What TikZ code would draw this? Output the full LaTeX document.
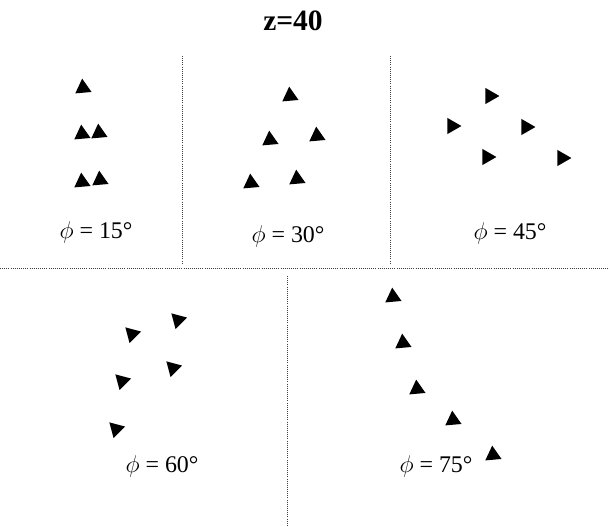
\documentclass[tikz,border=0pt]{standalone}
\usepackage{fontspec}
\setmainfont{Liberation Serif}
\usetikzlibrary{shapes.geometric}

\begin{document}
\begin{tikzpicture}[x=0.025cm,y=-0.025cm,
  tri/.style={regular polygon,regular polygon sides=3,fill=black,inner sep=0pt,minimum size=0.47cm},
  up/.style={tri,rotate=5},
  rt/.style={tri,rotate=-90},
  dn/.style={tri,rotate=165},
  sep/.style={densely dotted,line width=0.5pt,black!75},
  lbl/.style={font=\fontsize{17}{20}\selectfont}]
\useasboundingbox (0,0) rectangle (610,526);
\node[font=\fontsize{21}{24}\selectfont\bfseries] (title) at (293,21) {z=40};
% dividers
\coordinate (hl) at (0,268);   \coordinate (hr) at (610,268);
\coordinate (v1t) at (182,56); \coordinate (v1b) at (182,264);
\coordinate (v2t) at (390,56); \coordinate (v2b) at (390,264);
\coordinate (v3t) at (287,276);\coordinate (v3b) at (287,526);
\draw[sep] (hl) -- (hr);
\draw[sep] (v1t) -- (v1b);
\draw[sep] (v2t) -- (v2b);
\draw[sep] (v3t) -- (v3b);
% phi = 15
\node[up] (a1) at (83,88) {};
\node[up] (a2) at (82,134) {};
\node[up] (a3) at (99,133) {};
\node[up] (a4) at (82,182) {};
\node[up] (a5) at (100,180) {};
\node[lbl] (la) at (96,232) {$\phi$ = 15°};
% phi = 30
\node[up] (b1) at (290,96) {};
\node[up] (b2) at (270,140) {};
\node[up] (b3) at (317,136) {};
\node[up] (b4) at (251,183) {};
\node[up] (b5) at (297,179) {};
\node[lbl] (lb) at (288,236) {$\phi$ = 30°};
% phi = 45
\node[rt] (c1) at (490,96) {};
\node[rt] (c2) at (452,126) {};
\node[rt] (c3) at (526,127) {};
\node[rt] (c4) at (487,157) {};
\node[rt] (c5) at (562,158) {};
\node[lbl] (lc) at (510,233) {$\phi$ = 45°};
% phi = 60
\node[dn] (d1) at (178,320) {};
\node[dn] (d2) at (132,334) {};
\node[dn] (d3) at (173,368) {};
\node[dn] (d4) at (122,381) {};
\node[dn] (d5) at (116,429) {};
\node[lbl] (ld) at (162,466) {$\phi$ = 60°};
% phi = 75
\node[up] (e1) at (393,297) {};
\node[up] (e2) at (403,343) {};
\node[up] (e3) at (417,389) {};
\node[up] (e4) at (453,420) {};
\node[up] (e5) at (493,455) {};
\node[lbl] (le) at (436,466) {$\phi$ = 75°};
\end{tikzpicture}
\end{document}
